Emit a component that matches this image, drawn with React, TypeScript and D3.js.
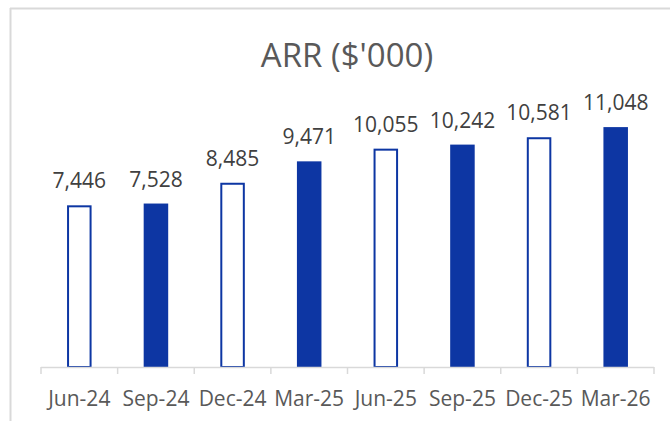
import React from "react";
import * as d3 from "d3";

const categories = ["Jun-24", "Sep-24", "Dec-24", "Mar-25", "Jun-25", "Sep-25", "Dec-25", "Mar-26"];
const values = [7446, 7528, 8485, 9471, 10055, 10242, 10581, 11048];
const hollow = [true, false, true, false, true, false, true, false];
const title = "ARR ($'000)";

const W = 670;
const H = 421;
const BLUE = "#0D36A3";
const FONT = "'Open Sans', sans-serif";

export default function App() {
  const x = d3.scaleBand<string>().domain(categories).range([41, 654]).paddingInner(0.68).paddingOuter(0.34);
  const y = d3.scaleLinear().domain([0, 14000]).range([367, 63]);
  const step = x.step();
  const x0 = 41;
  const fmt = d3.format(",");
  const ticks = d3.range(categories.length + 1).map((i) => x0 + i * step);

  return (
    <svg width={W} height={H} style={{ position: "absolute", left: 0, top: 0, background: "#fff" }}>
      <rect x={0} y={0} width={W} height={H} fill="#fff" />
      <line x1={10} y1={8.5} x2={W} y2={8.5} stroke="#d9d9d9" strokeWidth={2} />
      <line x1={10.5} y1={8} x2={10.5} y2={H} stroke="#d9d9d9" strokeWidth={2} />
      <text x={347} y={67} textAnchor="middle" fontFamily={FONT} fontSize={33} fill="#595959">
        {title}
      </text>
      {categories.map((c, i) => {
        const bx = x(c)!;
        const bw = x.bandwidth();
        const top = y(values[i]);
        return (
          <g key={c}>
            {hollow[i] ? (
              <rect x={bx + 1} y={top + 1} width={bw - 2} height={y(0) - top - 1} fill="#fff" stroke={BLUE} strokeWidth={2} />
            ) : (
              <rect x={bx} y={top} width={bw} height={y(0) - top} fill={BLUE} />
            )}
            <text x={bx + bw / 2} y={top - 17} textAnchor="middle" fontFamily={FONT} fontSize={21} fill="#404040">
              {fmt(values[i])}
            </text>
            <text x={bx + bw / 2} y={406} textAnchor="middle" fontFamily={FONT} fontSize={21} fill="#595959">
              {c}
            </text>
          </g>
        );
      })}
      <line x1={x0} y1={367.5} x2={x0 + step * categories.length} y2={367.5} stroke="#d9d9d9" strokeWidth={1.5} />
      {ticks.map((t, i) => (
        <line key={i} x1={t} y1={367} x2={t} y2={374} stroke="#d9d9d9" strokeWidth={1.5} />
      ))}
    </svg>
  );
}
